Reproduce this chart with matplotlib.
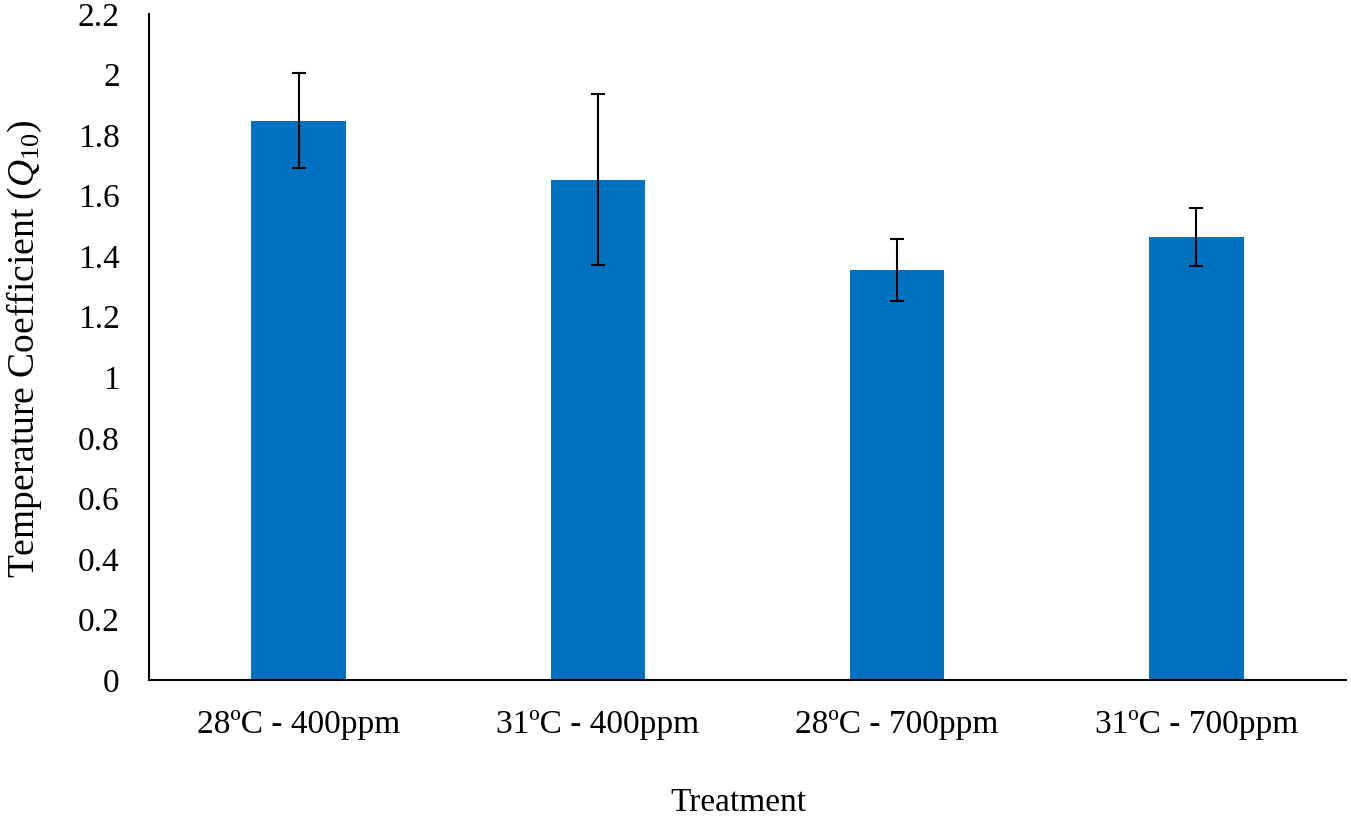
import matplotlib
matplotlib.use("Agg")
import matplotlib.pyplot as plt

categories = ["28ºC - 400ppm", "31ºC - 400ppm", "28ºC - 700ppm", "31ºC - 700ppm"]
q10_values = [1.848, 1.653, 1.355, 1.462]
q10_errors = [0.158, 0.283, 0.102, 0.096]
y_ticks = [0, 0.2, 0.4, 0.6, 0.8, 1, 1.2, 1.4, 1.6, 1.8, 2, 2.2]
y_tick_labels = ["0", "0.2", "0.4", "0.6", "0.8", "1", "1.2", "1.4", "1.6", "1.8", "2", "2.2"]

plt.rcParams['font.family'] = ['Liberation Serif', 'DejaVu Serif']
plt.rcParams['mathtext.fontset'] = 'custom'
plt.rcParams['mathtext.rm'] = 'Liberation Serif'
plt.rcParams['mathtext.it'] = 'Liberation Serif:italic'

W, H = 1351, 819
fig = plt.figure(figsize=(W / 100, H / 100), dpi=100)
ax = fig.add_axes([149 / W, (H - 680) / H, (1346 - 149) / W, (680 - 14) / H])

x = list(range(len(categories)))
ax.bar(x, q10_values, width=0.315, color="#0070C0", zorder=2)
ax.errorbar(x, q10_values, yerr=q10_errors, fmt='none', ecolor='black',
            elinewidth=1.5, capsize=5, capthick=1.5, zorder=3)

ax.set_xlim(-0.5, len(categories) - 0.5)
ax.set_ylim(0, 2.2)
ax.set_yticks(y_ticks)
ax.set_yticklabels(y_tick_labels, fontsize=24)
ax.set_xticks(x)
ax.set_xticklabels(categories, fontsize=24)
ax.tick_params(axis='both', length=0, colors='black')
ax.tick_params(axis='y', pad=21)
ax.tick_params(axis='x', pad=21)

for s in ['top', 'right']:
    ax.spines[s].set_visible(False)
for s in ['left', 'bottom']:
    ax.spines[s].set_linewidth(1.5)
    ax.spines[s].set_color('black')

fig.text((672 + 805) / 2 / W, 1 - 803 / H, "Treatment", fontsize=24,
         ha='center', va='center')
fig.text(24 / W, 1 - 349 / H, r"Temperature Coefficient ($\mathit{Q}_{\mathit{10}}$)",
         fontsize=27, rotation=90, ha='center', va='center')

fig.savefig("out.png", dpi=100)
